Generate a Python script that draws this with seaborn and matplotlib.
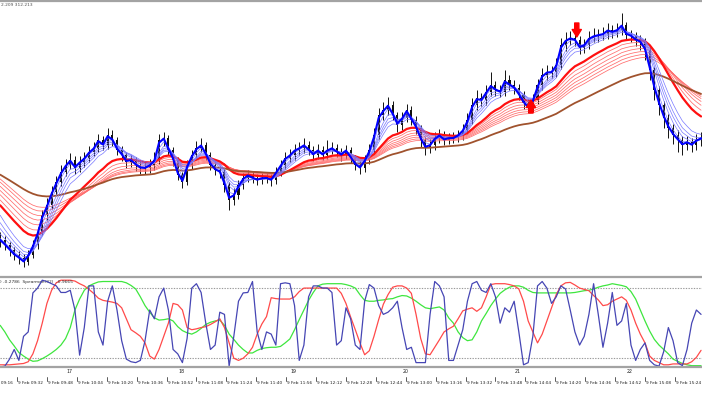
import numpy as np
import pandas as pd
import matplotlib
matplotlib.use("Agg")
import matplotlib.pyplot as plt
from matplotlib.lines import Line2D
from matplotlib.transforms import blended_transform_factory
import seaborn as sns

# ---------------- data ----------------
first_bar_min = 23.0      # minutes after 09:00 of the first visible bar
bar_step_min = 2.5
first_open = 42

close = [40, 35, 30, 25, 22, 18, 25, 35, 48, 65, 75, 88, 98, 108, 115, 120, 112, 118, 122, 128,
         132, 140, 135, 145, 140, 130, 125, 118, 120, 115, 112, 112, 115, 120, 140, 142, 130, 120, 105, 98,
         115, 125, 132, 135, 125, 115, 110, 108, 95, 80, 85, 95, 102, 105, 102, 100, 102, 102, 100, 108,
         115, 122, 125, 130, 132, 135, 130, 125, 130, 125, 130, 132, 128, 125, 130, 122, 115, 112, 120, 130,
         145, 165, 170, 175, 165, 155, 162, 170, 160, 152, 140, 132, 135, 142, 145, 140, 142, 142, 145, 150,
         160, 175, 182, 180, 188, 195, 190, 188, 200, 195, 192, 185, 177, 172, 180, 195, 205, 208, 208, 215,
         235, 240, 242, 240, 232, 235, 242, 244, 245, 246, 250, 248, 250, 255, 245, 244, 240, 238, 230, 210,
         190, 175, 162, 152, 145, 140, 135, 138, 135, 140, 142]
high = [48, 44, 38, 33, 29, 26, 30, 40, 53, 70, 82, 94, 104, 115, 121, 127, 124, 124, 128, 134,
        138, 146, 144, 152, 150, 143, 134, 128, 125, 123, 119, 118, 121, 128, 146, 148, 145, 133, 123, 108,
        120, 130, 139, 142, 138, 128, 119, 114, 111, 98, 92, 100, 107, 110, 109, 106, 107, 107, 106, 113,
        120, 128, 131, 136, 138, 142, 139, 134, 136, 134, 140, 138, 136, 132, 135, 133, 125, 119, 125, 136,
        152, 172, 178, 183, 179, 168, 168, 176, 174, 164, 155, 143, 141, 148, 151, 149, 147, 148, 150, 156,
        167, 182, 190, 187, 195, 208, 199, 195, 210, 205, 200, 196, 189, 181, 186, 201, 212, 215, 214, 222,
        242, 248, 249, 248, 244, 241, 249, 252, 251, 253, 257, 255, 257, 267, 258, 250, 248, 245, 242, 233,
        213, 194, 179, 166, 156, 150, 144, 144, 142, 146, 148]
low = [33, 30, 24, 20, 16, 13, 15, 22, 31, 45, 60, 71, 85, 94, 104, 111, 106, 108, 113, 118,
       124, 128, 130, 131, 134, 125, 119, 112, 113, 109, 106, 106, 107, 110, 116, 134, 125, 114, 100, 92,
       95, 111, 120, 128, 120, 110, 105, 102, 88, 70, 75, 81, 91, 98, 97, 95, 96, 97, 94, 96,
       104, 111, 118, 120, 125, 127, 125, 119, 121, 120, 121, 126, 123, 119, 121, 117, 110, 106, 108, 116,
       127, 141, 160, 165, 160, 148, 150, 158, 155, 146, 133, 125, 127, 130, 137, 135, 136, 137, 138, 140,
       146, 156, 170, 174, 175, 184, 184, 183, 184, 190, 186, 180, 171, 167, 168, 176, 190, 200, 202, 203,
       211, 229, 235, 234, 226, 227, 231, 238, 238, 240, 241, 242, 243, 245, 240, 238, 234, 230, 220, 200,
       180, 165, 152, 142, 136, 128, 125, 130, 128, 130, 134]

blue_periods = [1.3, 2.2, 3.5, 4.5, 5.5, 7.0]
blue_start = [40, 44, 51, 58, 65, 73]
red_periods = [14, 17, 20, 23, 26, 29, 32]
red_start = [80, 85, 90, 94, 98, 102, 105]
brown_period = 50
brown_start = 108

spear_fast = [-1.0, -0.98, -0.82, -0.6, -0.85, -0.3, -0.2, 0.69, 0.8, 0.98,
              0.95, 0.9, 0.85, 0.7, 0.7, 0.75, 0.3, -0.73, -0.1, 0.85,
              0.85, -0.2, -0.5, 0.5, 0.85, 0.3, -0.4, -0.82, -0.88, -0.9,
              -0.85, -0.4, 0.3, 0.1, 0.6, 0.8, 0.3, -0.6, -0.7, -0.9,
              -0.35, 0.8, 0.9, 0.7, 0.0, -0.6, -0.5, 0.25, 0.2, -0.98,
              -0.3, 0.5, 0.69, 0.7, 0.95, -0.2, -0.6, -0.2, -0.25, -0.5,
              0.9, 0.92, 0.9, 0.4, -0.85, -0.5, 0.6, 0.85, 0.85, 0.8,
              0.8, 0.7, -0.5, -0.4, 0.35, 0.1, -0.5, -0.6, 0.5, 0.88,
              0.8, 0.4, 0.2, 0.25, 0.35, 0.5, -0.1, -0.6, -0.55, -0.9,
              -0.9, -0.9, 0.2, 0.95, 0.85, 0.6, -0.85, -0.85, -0.5, -0.15,
              0.5, 0.9, 0.95, 0.75, 0.7, 0.9, 0.6, 0.0, 0.35, 0.25,
              0.5, -0.2, -0.95, -0.9, -0.3, 0.85, 0.95, 0.8, 0.45, 0.6,
              0.85, 0.78, 0.3, -0.2, -0.5, -0.3, 0.2, 0.9, 0.2, -0.55,
              0.0, 0.7, -0.05, 0.05, 0.45, -0.5, -0.85, -0.6, -0.45, -0.85,
              -0.95, -0.98, -0.65, -0.1, -0.4, -0.9, -0.97, -0.6, 0.0, 0.3, 0.2]
spear_mid = [-0.95, -0.95, -0.95, -0.94, -0.93, -0.92, -0.88, -0.7, -0.4, 0.0,
             0.45, 0.75, 0.92, 0.98, 0.98, 0.98, 0.96, 0.9, 0.85, 0.77,
             0.68, 0.57, 0.52, 0.5, 0.48, 0.45, 0.35, 0.1, -0.15, -0.22,
             -0.3, -0.45, -0.75, -0.82, -0.6, -0.3, 0.0, 0.45, 0.42, 0.3,
             -0.1, -0.15, -0.13, -0.1, -0.08, -0.03, 0.03, 0.1, -0.1, -0.45,
             -0.8, -0.85, -0.8, -0.7, -0.55, -0.25, -0.02, 0.15, 0.58, 0.56,
             0.55, 0.55, 0.55, 0.6, 0.72, 0.8, 0.8, 0.8, 0.8, 0.8,
             0.8, 0.8, 0.8, 0.68, 0.45, 0.14, -0.15, -0.45, -0.72, -0.63,
             -0.3, 0.08, 0.43, 0.65, 0.82, 0.85, 0.85, 0.8, 0.68, 0.2,
             -0.35, -0.7, -0.72, -0.55, -0.38, -0.2, -0.13, -0.07, 0.1, 0.28,
             0.32, 0.35, 0.27, 0.35, 0.6, 0.88, 0.9, 0.9, 0.9, 0.88,
             0.85, 0.78, 0.5, 0.05, -0.2, -0.45, -0.25, 0.05, 0.35, 0.65,
             0.85, 0.92, 0.93, 0.87, 0.8, 0.77, 0.74, 0.63, 0.53, 0.4,
             0.42, 0.5, 0.55, 0.6, 0.52, 0.3, 0.0, -0.25, -0.45, -0.75,
             -0.85, -0.9, -0.95, -0.95, -0.93, -0.93, -0.93, -0.93, -0.88, -0.78, -0.62]
spear_slow = [-0.05, -0.2, -0.38, -0.52, -0.67, -0.75, -0.82, -0.87, -0.86, -0.81,
              -0.75, -0.68, -0.6, -0.5, -0.35, -0.1, 0.3, 0.55, 0.75, 0.85,
              0.9, 0.94, 0.95, 0.95, 0.95, 0.95, 0.95, 0.92, 0.86, 0.78,
              0.6, 0.4, 0.25, 0.12, 0.07, 0.08, 0.1, 0.05, -0.08, -0.17,
              -0.22, -0.25, -0.2, -0.12, -0.03, 0.02, 0.05, 0.07, -0.05, -0.25,
              -0.37, -0.5, -0.6, -0.68, -0.68, -0.62, -0.58, -0.56, -0.55, -0.55,
              -0.53, -0.45, -0.36, -0.15, 0.08, 0.3, 0.52, 0.7, 0.85, 0.89,
              0.9, 0.9, 0.9, 0.9, 0.88, 0.85, 0.8, 0.65, 0.52, 0.5,
              0.5, 0.52, 0.53, 0.55, 0.56, 0.6, 0.63, 0.62, 0.57, 0.5,
              0.42, 0.35, 0.33, 0.35, 0.37, 0.3, 0.12, 0.0, -0.2, -0.33,
              -0.4, -0.38, -0.2, 0.05, 0.22, 0.4, 0.55, 0.68, 0.76, 0.82,
              0.85, 0.85, 0.82, 0.75, 0.7, 0.69, 0.69, 0.69, 0.69, 0.69,
              0.69, 0.69, 0.69, 0.7, 0.72, 0.74, 0.75, 0.78, 0.82, 0.85,
              0.87, 0.9, 0.88, 0.86, 0.83, 0.72, 0.55, 0.3, 0.05, -0.18,
              -0.37, -0.5, -0.6, -0.7, -0.82, -0.87, -0.92, -0.95, -0.97, -0.97, -0.97]
spear_levels = [0.8, -0.8]

tick_times = [16, 32, 48, 64, 80, 96, 112, 128, 144, 160, 176, 192,
              208, 224, 240, 256, 272, 288, 304, 320, 336, 352, 368, 384]
tick_labels = ["9 Feb 09:16", "9 Feb 09:32", "9 Feb 09:48", "9 Feb 10:04", "9 Feb 10:20",
               "9 Feb 10:36", "9 Feb 10:52", "9 Feb 11:08", "9 Feb 11:24", "9 Feb 11:40",
               "9 Feb 11:56", "9 Feb 12:12", "9 Feb 12:28", "9 Feb 12:44", "9 Feb 13:00",
               "9 Feb 13:16", "9 Feb 13:32", "9 Feb 13:48", "9 Feb 14:04", "9 Feb 14:20",
               "9 Feb 14:36", "9 Feb 14:52", "9 Feb 15:08", "9 Feb 15:24"]
hour_times = [60, 120, 180, 240, 300, 360]
hour_labels = ["17", "18", "19", "20", "21", "22"]

signal_times = [307.0, 331.5]
signal_levels = [180, 243]
signal_dirs = ["up", "down"]

header_text = "2.209 312.213"
spear_text = ") -0.2786  Spearman(32)  -0.9665"

# ---------------- derived ----------------
n = len(close)
t = first_bar_min + bar_step_min * np.arange(n)
opens = [first_open] + close[:-1]


def ema(values, period, start):
    a = 2.0 / (period + 1.0)
    out, prev = [], start
    for v in values:
        prev = prev + a * (v - prev)
        out.append(prev)
    return np.array(out)


df = pd.DataFrame({"t": t, "close": close})

# ---------------- figure ----------------
sns.set_theme(style="white")
plt.rcParams['font.family'] = ['DejaVu Sans']
W, H = 702, 395
fig = plt.figure(figsize=(W / 100, H / 100), dpi=100)
fig.patch.set_facecolor("white")

x0 = 22.9
x1 = x0 + W / 1.869


def fy(px):
    return 1 - px / H


ax = fig.add_axes([0, fy(276), 1, fy(3) - fy(276)])
ax2 = fig.add_axes([0, fy(367), 1, fy(278) - fy(367)])

for a in (ax, ax2):
    a.set_xlim(x0, x1)
    a.set_xticks([])
    a.set_yticks([])
    a.set_facecolor("white")
    for s in a.spines.values():
        s.set_visible(False)

ax.set_ylim(4, 277)
ax2.set_ylim(-1.0, 1.03)

# candles
ax.vlines(t, low, high, color="#111111", lw=0.7, zorder=2)
body_b = np.minimum(opens, close)
body_h = np.maximum(np.abs(np.array(close) - np.array(opens)), 0.8)
ax.bar(t, body_h, bottom=body_b, width=1.1, color="#111111", zorder=2, linewidth=0)

# moving averages
for p, s0 in zip(red_periods[1:], red_start[1:]):
    sns.lineplot(x=df["t"], y=ema(close, p, s0), ax=ax, color="#ff6c6c", lw=0.55,
                 estimator=None, sort=False, zorder=3)
sns.lineplot(x=df["t"], y=ema(close, red_periods[0], red_start[0]), ax=ax, color="#ff1010",
             lw=1.6, estimator=None, sort=False, zorder=4)
sns.lineplot(x=df["t"], y=ema(close, brown_period, brown_start), ax=ax, color="#a0522d",
             lw=1.3, estimator=None, sort=False, zorder=4)
for p, s0 in zip(blue_periods[1:], blue_start[1:]):
    sns.lineplot(x=df["t"], y=ema(close, p, s0), ax=ax, color="#7878ff", lw=0.5,
                 estimator=None, sort=False, zorder=5)
sns.lineplot(x=df["t"], y=ema(close, blue_periods[0], blue_start[0]), ax=ax, color="#0000ff",
             lw=1.5, estimator=None, sort=False, zorder=6)

# signal arrows
for st, lv, d in zip(signal_times, signal_levels, signal_dirs):
    tail = lv + 14 if d == "down" else lv - 13
    ax.annotate("", xy=(st, lv), xytext=(st, tail),
                arrowprops=dict(arrowstyle="simple,head_width=1.1,head_length=0.9,tail_width=0.5",
                                color="#ff0000", mutation_scale=6, shrinkA=0, shrinkB=0),
                zorder=7)
ax.set_xlabel("")
ax.set_ylabel("")

# spearman panel
for lv in spear_levels:
    ax2.axhline(lv, color="#9a9a9a", lw=0.8, ls=(0, (1.2, 1.2)), zorder=1)
sns.lineplot(x=df["t"], y=spear_slow, ax=ax2, color="#3ee63e", lw=0.9, estimator=None, sort=False, zorder=2)
sns.lineplot(x=df["t"], y=spear_mid, ax=ax2, color="#ff4a4a", lw=0.9, estimator=None, sort=False, zorder=3)
sns.lineplot(x=df["t"], y=spear_fast, ax=ax2, color="#4646b4", lw=0.9, estimator=None, sort=False, zorder=4)
ax2.set_xlabel("")
ax2.set_ylabel("")
ax2.text(0.0, 0.955, spear_text, transform=ax2.transAxes, fontsize=3.2, color="#303030",
         va="center", ha="left")

# borders
for ypx in (1.2, 277.2, 366.8):
    fig.add_artist(Line2D([0, 1], [fy(ypx), fy(ypx)], color="#a3a3a3", lw=1.6))

fig.text(1 / W, fy(5.5), header_text, fontsize=3.2, color="#505050", va="center", ha="left")

# x labels
tr = blended_transform_factory(ax2.transData, fig.transFigure)
for ht, hl in zip(hour_times, hour_labels):
    ax2.text(ht, fy(371.5), hl, transform=tr, fontsize=3.4, color="#202020",
             ha="center", va="center", clip_on=False)
for tt, tl in zip(tick_times, tick_labels):
    ax2.add_line(Line2D([tt, tt], [fy(377), fy(381)], transform=tr, color="#404040",
                        lw=0.6, clip_on=False))
    ax2.text(tt + 0.6, fy(383), tl, transform=tr, fontsize=3.1, color="#202020",
             ha="left", va="center", clip_on=False)

fig.savefig("out.png", dpi=100)
